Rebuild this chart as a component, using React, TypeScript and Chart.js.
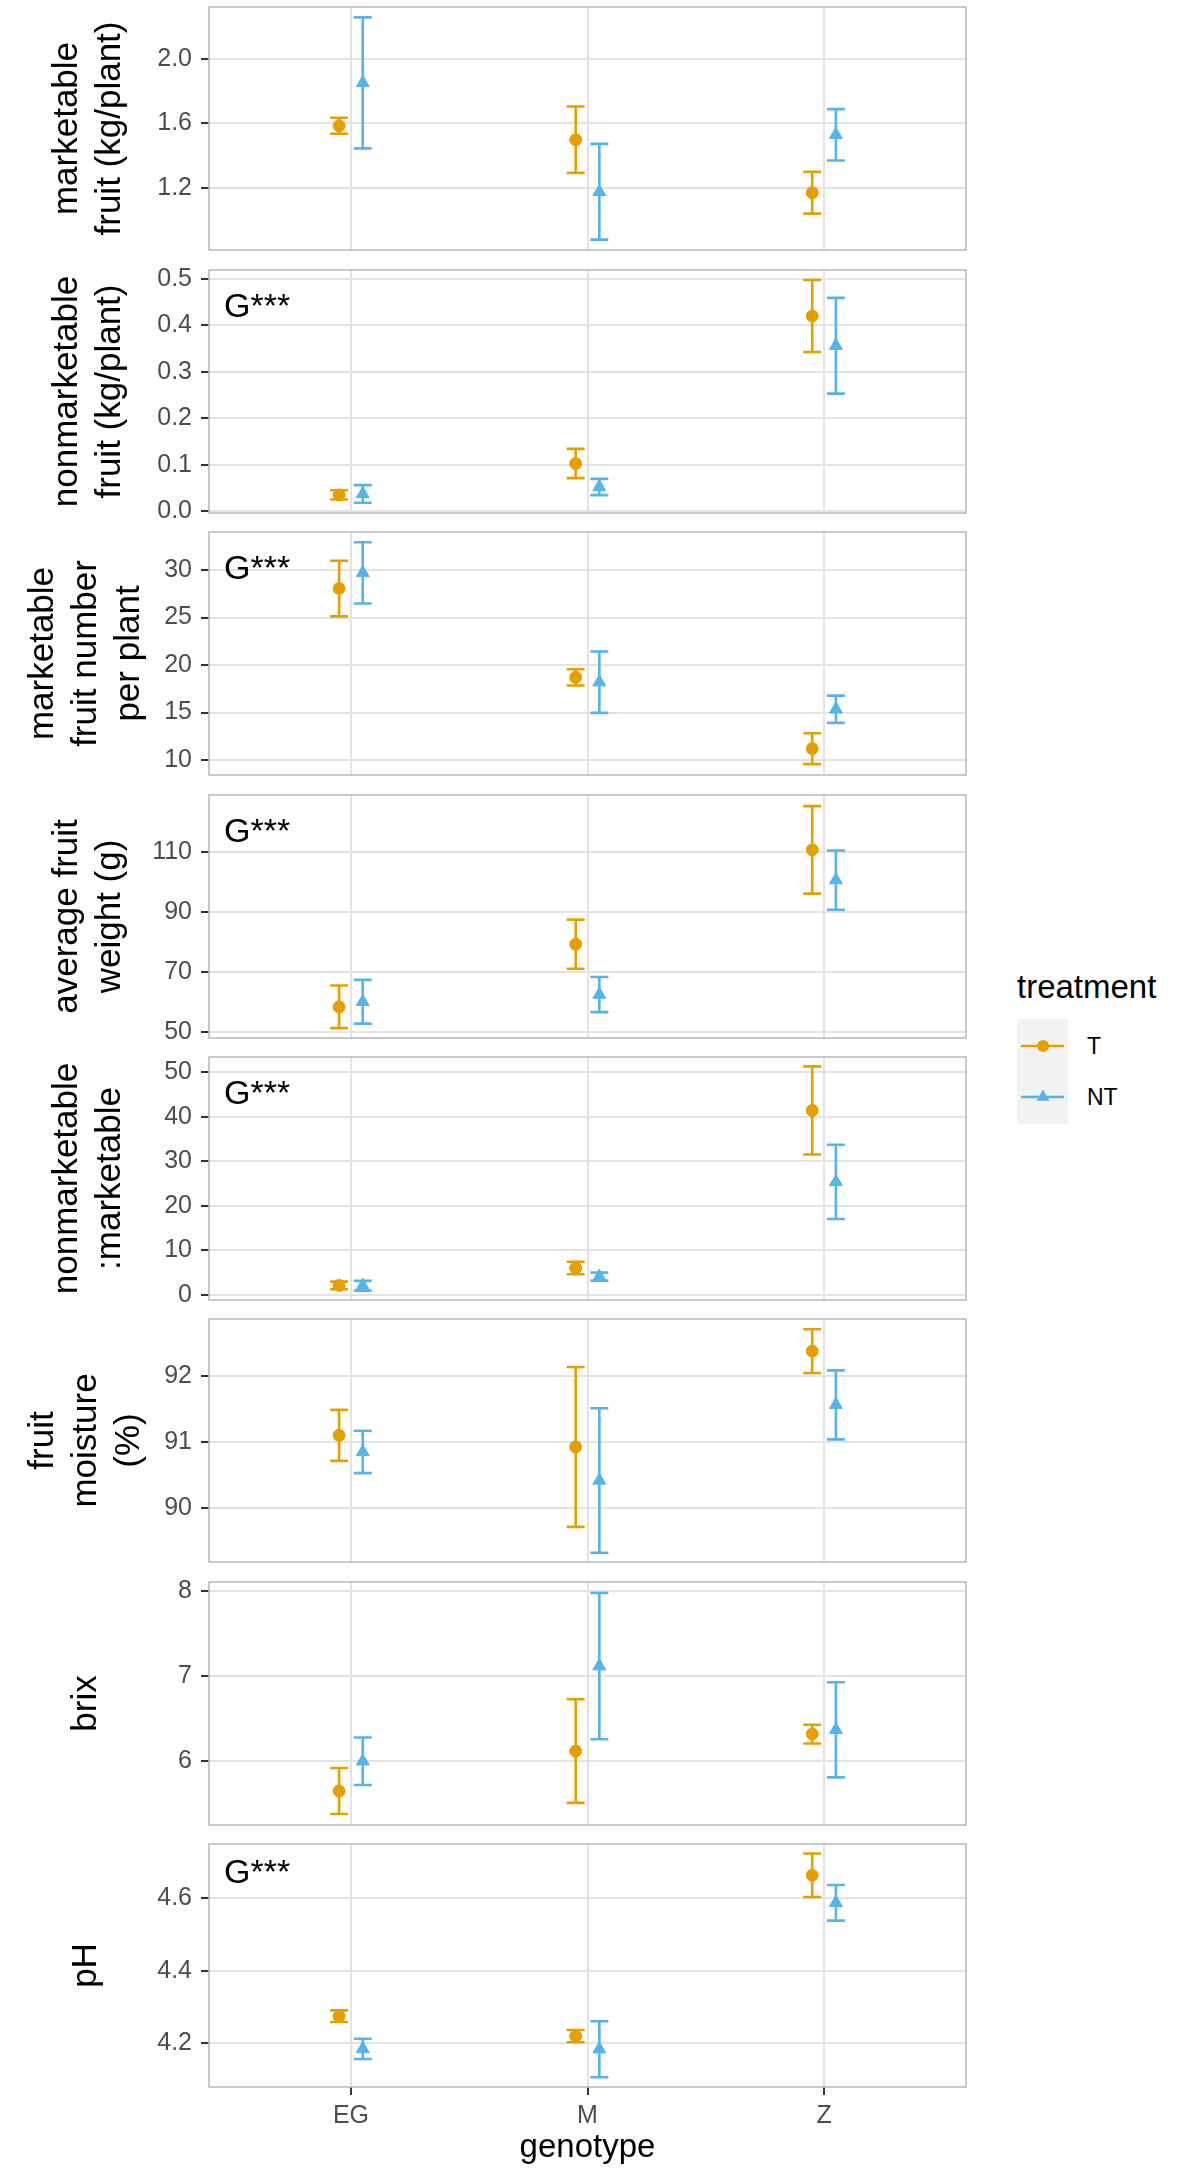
import { useEffect, useRef } from "react"
import { Chart, registerables } from "chart.js"

Chart.register(...registerables)

const FONT = '"Liberation Sans", Arial, Helvetica, sans-serif'
Chart.defaults.font.family = FONT

// colours (ggplot-ish)
const COLOR_T = "#E69F00"
const COLOR_NT = "#56B4E9"
const GRID = "#E3E3E3"
const BORDER = "#B8B8B8"
const TICK = "#333333"
const TICK_TEXT = "#4D4D4D"

// ---- data ----
const genotypes = ["EG", "M", "Z"]
const treatments = ["T", "NT"]

// marketable fruit (kg/plant)
const mktT = [1.586, 1.5, 1.172]
const mktTse = [0.049, 0.205, 0.129]
const mktNT = [1.851, 1.178, 1.53]
const mktNTse = [0.405, 0.296, 0.159]
const mktTicks = [1.2, 1.6, 2.0]

// nonmarketable fruit (kg/plant)
const nonmktT = [0.035, 0.1025, 0.42]
const nonmktTse = [0.01, 0.0315, 0.0775]
const nonmktNT = [0.037, 0.052, 0.356]
const nonmktNTse = [0.019, 0.0175, 0.103]
const nonmktTicks = [0, 0.1, 0.2, 0.3, 0.4, 0.5]

// marketable fruit number per plant
const numT = [28.05, 18.7, 11.2]
const numTse = [2.93, 0.86, 1.63]
const numNT = [29.7, 18.2, 15.35]
const numNTse = [3.22, 3.23, 1.43]
const numTicks = [10, 15, 20, 25, 30]

// average fruit weight (g)
const weightT = [58.4, 79.3, 110.8]
const weightTse = [7.1, 8.2, 14.6]
const weightNT = [60.1, 62.5, 100.7]
const weightNTse = [7.3, 5.85, 9.9]
const weightTicks = [50, 70, 90, 110]

// nonmarketable:marketable
const ratioT = [2.07, 6.0, 41.4]
const ratioTse = [0.85, 1.4, 9.9]
const ratioNT = [2.0, 4.05, 25.35]
const ratioNTse = [1.1, 0.9, 8.35]
const ratioTicks = [0, 10, 20, 30, 40, 50]

// fruit moisture (%)
const moistT = [91.1, 90.925, 92.37]
const moistTse = [0.385, 1.205, 0.33]
const moistNT = [90.85, 90.42, 91.56]
const moistNTse = [0.32, 1.09, 0.52]
const moistTicks = [90, 91, 92]

// brix
const brixT = [5.65, 6.12, 6.32]
const brixTse = [0.27, 0.61, 0.11]
const brixNT = [6.0, 7.12, 6.37]
const brixNTse = [0.28, 0.86, 0.56]
const brixTicks = [6, 7, 8]

// pH
const phT = [4.275, 4.22, 4.663]
const phTse = [0.016, 0.017, 0.06]
const phNT = [4.185, 4.184, 4.587]
const phNTse = [0.028, 0.077, 0.049]
const phTicks = [4.2, 4.4, 4.6]

type PanelSpec = {
  title: string[]
  t: number[]
  tSe: number[]
  nt: number[]
  ntSe: number[]
  ticks: number[]
  digits: number
  min: number
  max: number
  sig?: string
  sigDy?: number
}

const panels: PanelSpec[] = [
  { title: ["marketable", "fruit (kg/plant)"], t: mktT, tSe: mktTse, nt: mktNT, ntSe: mktNTse, ticks: mktTicks, digits: 1, min: 0.818, max: 2.32 },
  { title: ["nonmarketable", "fruit (kg/plant)"], t: nonmktT, tSe: nonmktTse, nt: nonmktNT, ntSe: nonmktNTse, ticks: nonmktTicks, digits: 1, min: -0.004, max: 0.519, sig: "G***", sigDy: 47 },
  { title: ["marketable", "fruit number", "per plant"], t: numT, tSe: numTse, nt: numNT, ntSe: numNTse, ticks: numTicks, digits: 0, min: 8.43, max: 34.0, sig: "G***", sigDy: 47 },
  { title: ["average fruit", "weight (g)"], t: weightT, tSe: weightTse, nt: weightNT, ntSe: weightNTse, ticks: weightTicks, digits: 0, min: 48.0, max: 129.1, sig: "G***", sigDy: 47 },
  { title: ["nonmarketable", ":marketable"], t: ratioT, tSe: ratioTse, nt: ratioNT, ntSe: ratioNTse, ticks: ratioTicks, digits: 0, min: -1.2, max: 53.4, sig: "G***", sigDy: 47 },
  { title: ["fruit", "moisture", "(%)"], t: moistT, tSe: moistTse, nt: moistNT, ntSe: moistNTse, ticks: moistTicks, digits: 0, min: 89.19, max: 92.855 },
  { title: ["brix"], t: brixT, tSe: brixTse, nt: brixNT, ntSe: brixNTse, ticks: brixTicks, digits: 0, min: 5.25, max: 8.11 },
  { title: ["pH"], t: phT, tSe: phTse, nt: phNT, ntSe: phNTse, ticks: phTicks, digits: 1, min: 4.08, max: 4.749, sig: "G***", sigDy: 39 },
]

// ---- layout (page pixels) ----
const PANEL_TOPS = [7, 270, 532, 795, 1057, 1319, 1582, 1844]
const PANEL_H = 243
const PLOT_LEFT = 209
const CANVAS_W = 980
const PLOT_RIGHT_PAD = 14
const PAD = 28
const X_AXIS_H = 88
const TITLE_SIZE = 35
const TITLE_LINE = 43
const TICK_SIZE = 25
// centre of the rotated y-title block, by number of lines
const TITLE_CENTER = [0, 86, 89, 86]

// error bars drawn from the scales, under the points
const errorBarPlugin = {
  id: "errorBars",
  beforeDatasetsDraw(chart: any) {
    const { ctx, scales } = chart
    const x = scales.x
    const y = scales.y
    chart.data.datasets.forEach((ds: any) => {
      ctx.save()
      ctx.strokeStyle = ds.borderColor
      ctx.lineWidth = 2.6
      ds.data.forEach((p: any) => {
        const px = x.getPixelForValue(p.x)
        const top = y.getPixelForValue(p.y + p.se)
        const bot = y.getPixelForValue(p.y - p.se)
        ctx.beginPath()
        ctx.moveTo(px, top)
        ctx.lineTo(px, bot)
        ctx.moveTo(px - 9, top)
        ctx.lineTo(px + 9, top)
        ctx.moveTo(px - 9, bot)
        ctx.lineTo(px + 9, bot)
        ctx.stroke()
      })
      ctx.restore()
    })
  },
}

function Panel({ spec, index }: { spec: PanelSpec; index: number }) {
  const chartRef = useRef<HTMLCanvasElement>(null)
  const isLast = index === panels.length - 1

  useEffect(() => {
    if (!chartRef.current) return

    // panel frame + "G***" note
    const framePlugin = {
      id: "frame",
      afterDatasetsDraw(chart: any) {
        const { ctx, chartArea: a } = chart
        ctx.save()
        ctx.strokeStyle = BORDER
        ctx.lineWidth = 1.5
        ctx.strokeRect(a.left, a.top, a.right - a.left, a.bottom - a.top)
        if (spec.sig) {
          ctx.fillStyle = "#000"
          ctx.font = `34px ${FONT}`
          ctx.textBaseline = "alphabetic"
          ctx.textAlign = "left"
          ctx.fillText(spec.sig, a.left + 15, a.top + (spec.sigDy || 47))
        }
        ctx.restore()
      },
    }

    const makeData = (means: number[], ses: number[], shift: number) =>
      means.map((m, i) => ({ x: i + 1 + shift, y: m, se: ses[i] }))

    const lines = spec.title.length

    const chart = new Chart(chartRef.current, {
      type: "scatter",
      data: {
        datasets: [
          {
            label: treatments[0],
            data: makeData(spec.t, spec.tSe, -0.05),
            backgroundColor: COLOR_T,
            borderColor: COLOR_T,
            pointStyle: "circle",
            pointRadius: 6,
            pointBorderWidth: 1,
          },
          {
            label: treatments[1],
            data: makeData(spec.nt, spec.ntSe, 0.05),
            backgroundColor: COLOR_NT,
            borderColor: COLOR_NT,
            pointStyle: "triangle",
            pointRadius: 7.5,
            pointBorderWidth: 1,
          },
        ],
      },
      options: {
        animation: false,
        responsive: true,
        maintainAspectRatio: false,
        events: [],
        layout: {
          padding: { left: 0, right: PLOT_RIGHT_PAD, top: PAD, bottom: isLast ? 0 : PAD },
        },
        plugins: {
          legend: { display: false },
          tooltip: { enabled: false },
        },
        scales: {
          x: {
            type: "linear",
            min: 0.4,
            max: 3.6,
            afterBuildTicks: (s: any) => {
              s.ticks = genotypes.map((_, i) => ({ value: i + 1 }))
            },
            afterFit: (s: any) => {
              s.height = isLast ? X_AXIS_H : 0
            },
            border: { display: false },
            grid: {
              color: GRID,
              lineWidth: 2,
              drawTicks: isLast,
              tickLength: 8,
              tickColor: TICK,
              tickWidth: 2,
            },
            ticks: {
              display: isLast,
              padding: 6,
              maxRotation: 0,
              color: TICK_TEXT,
              font: { family: FONT, size: TICK_SIZE },
              callback: (v: any) => genotypes[Math.round(Number(v)) - 1] ?? "",
            },
            title: {
              display: isLast,
              text: "genotype",
              color: "#000",
              font: { family: FONT, size: 33 },
              padding: { top: 0, bottom: 7 },
            },
          },
          y: {
            type: "linear",
            min: spec.min,
            max: spec.max,
            afterBuildTicks: (s: any) => {
              s.ticks = spec.ticks.map((v) => ({ value: v }))
            },
            afterFit: (s: any) => {
              s.width = PLOT_LEFT
            },
            border: { display: false },
            grid: {
              color: GRID,
              lineWidth: 2,
              drawTicks: true,
              tickLength: 8,
              tickColor: TICK,
              tickWidth: 2,
            },
            ticks: {
              padding: 9,
              color: TICK_TEXT,
              font: { family: FONT, size: TICK_SIZE },
              callback: (v: any) => Number(v).toFixed(spec.digits),
            },
            title: {
              display: true,
              text: spec.title,
              color: "#000",
              font: { family: FONT, size: TITLE_SIZE, lineHeight: TITLE_LINE / TITLE_SIZE },
              padding: { top: TITLE_CENTER[lines] - (lines * TITLE_LINE) / 2, bottom: 0 },
            },
          },
        },
      },
      plugins: [errorBarPlugin, framePlugin],
    } as any)

    return () => {
      chart.destroy()
    }
  }, [spec, isLast])

  const top = PANEL_TOPS[index] - PAD
  const height = PAD + PANEL_H + (isLast ? X_AXIS_H : PAD)

  return (
    <div style={{ position: "absolute", left: 0, top, width: CANVAS_W, height }}>
      <canvas ref={chartRef} />
    </div>
  )
}

function Legend() {
  const tri = (cx: number, cy: number, r: number) =>
    `${cx},${cy - r} ${cx + r * 0.866},${cy + r * 0.5} ${cx - r * 0.866},${cy + r * 0.5}`
  return (
    <>
      <div style={{ position: "absolute", left: 1017, top: 968, fontFamily: FONT, fontSize: 33, lineHeight: "38px", color: "#000" }}>
        treatment
      </div>
      <div style={{ position: "absolute", left: 1017, top: 1019, width: 51, height: 105, background: "#F2F2F2" }}>
        <svg width={51} height={105}>
          <line x1={4} x2={47} y1={27} y2={27} stroke={COLOR_T} strokeWidth={2.6} />
          <circle cx={26} cy={27} r={6} fill={COLOR_T} />
          <line x1={4} x2={47} y1={78} y2={78} stroke={COLOR_NT} strokeWidth={2.6} />
          <polygon points={tri(26, 78, 7.5)} fill={COLOR_NT} />
        </svg>
      </div>
      <div style={{ position: "absolute", left: 1087, top: 1032, fontFamily: FONT, fontSize: 23, lineHeight: "28px", color: "#000" }}>
        {treatments[0]}
      </div>
      <div style={{ position: "absolute", left: 1087, top: 1083, fontFamily: FONT, fontSize: 23, lineHeight: "28px", color: "#000" }}>
        {treatments[1]}
      </div>
    </>
  )
}

export default function App() {
  return (
    <div style={{ position: "absolute", left: 0, top: 0, width: 1182, height: 2175, background: "#fff" }}>
      {panels.map((p, i) => (
        <Panel key={i} spec={p} index={i} />
      ))}
      <Legend />
    </div>
  )
}
